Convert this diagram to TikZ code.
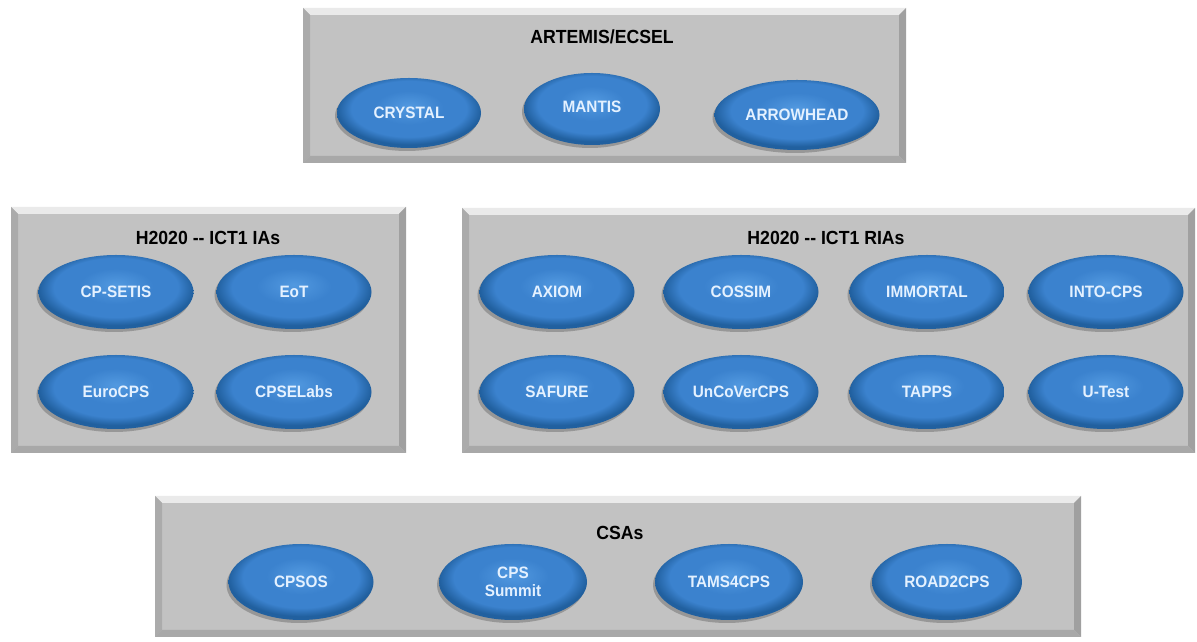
\documentclass[tikz,border=0pt]{standalone}
\usepackage{fontspec}
\newfontfamily\condfont[FakeStretch=0.93]{Liberation Sans}
\usetikzlibrary{shadows,calc,shapes.geometric}
\definecolor{facegray}{HTML}{C2C2C2}
\definecolor{bevtop}{HTML}{EAEAEA}
\definecolor{bevleft}{HTML}{ABABAB}
\definecolor{bevright}{HTML}{A0A0A0}
\definecolor{bevbot}{HTML}{A8A8A8}
\definecolor{ovalC}{HTML}{5299E0}
\definecolor{ovalM}{HTML}{3B82CE}
\definecolor{ovalE}{HTML}{21609F}
\definecolor{ovaltext}{HTML}{E4F1FF}
\pgfdeclareradialshading{ovalshade}{\pgfpoint{0bp}{5bp}}{color(0bp)=(ovalC); color(12bp)=(ovalM); color(20bp)=(ovalM); color(25bp)=(ovalE); color(50bp)=(ovalE)}
\tikzset{
  x=1pt, y=1pt,
  panel/.style={rectangle, fill=facegray, inner sep=0pt, outer sep=0pt},
  ptitle/.style={font=\condfont\bfseries\fontsize{19}{21}\selectfont, text=black},
  oval/.style={ellipse, shading=ovalshade, minimum width=#1, minimum height=74, inner sep=0pt,
    font=\condfont\bfseries\fontsize{16.5}{18}\selectfont, text=ovaltext, align=center,
    drop shadow={shadow xshift=-2pt, shadow yshift=-3pt, opacity=0.22, fill=black}},
  oval/.default=155
}
\newcommand\bevelpanel[1]{%
  \fill[bevtop] (#1.north west) -- (#1.north east) -- ([shift={(-7,-7)}]#1.north east) -- ([shift={(7,-7)}]#1.north west) -- cycle;
  \fill[bevleft] (#1.north west) -- ([shift={(7,-7)}]#1.north west) -- ([shift={(7,7)}]#1.south west) -- (#1.south west) -- cycle;
  \fill[bevright] (#1.north east) -- ([shift={(-7,-7)}]#1.north east) -- ([shift={(-7,7)}]#1.south east) -- (#1.south east) -- cycle;
  \fill[bevbot] (#1.south west) -- ([shift={(7,7)}]#1.south west) -- ([shift={(-7,7)}]#1.south east) -- (#1.south east) -- cycle;
}
\begin{document}
\begin{tikzpicture}
\useasboundingbox (0,0) rectangle (1197,642);
% panels
\node[panel, minimum width=603, minimum height=155] (art) at (604.5,556.5) {};
\bevelpanel{art}
\node[panel, minimum width=395, minimum height=246] (ias) at (208.5,312) {};
\bevelpanel{ias}
\node[panel, minimum width=733, minimum height=245] (rias) at (828.5,311.5) {};
\bevelpanel{rias}
\node[panel, minimum width=926, minimum height=141] (csas) at (618,75.5) {};
\bevelpanel{csas}
% titles
\node[ptitle] (tart) at (602,605) {ARTEMIS/ECSEL};
\node[ptitle] (tias) at (208,404) {H2020 -- ICT1 IAs};
\node[ptitle] (trias) at (826,404) {H2020 -- ICT1 RIAs};
\node[ptitle] (tcsas) at (620,109) {CSAs};
% ARTEMIS
\node[oval=144, minimum height=70] (crystal) at (409,529) {CRYSTAL};
\node[oval=136, minimum height=72] (mantis) at (592,533) {\raisebox{4pt}{MANTIS}};
\node[oval=165, minimum height=70] (arrowhead) at (797,527) {ARROWHEAD};
% IAs
\node[oval] (cpsetis) at (116,350) {CP-SETIS};
\node[oval] (eot) at (294,350) {EoT};
\node[oval] (eurocps) at (116,250) {EuroCPS};
\node[oval] (cpselabs) at (294,250) {CPSELabs};
% RIAs
\node[oval] (axiom) at (557,350) {AXIOM};
\node[oval] (cossim) at (741,350) {COSSIM};
\node[oval] (immortal) at (927,350) {IMMORTAL};
\node[oval] (intocps) at (1106,350) {INTO-CPS};
\node[oval] (safure) at (557,250) {SAFURE};
\node[oval] (uncover) at (741,250) {UnCoVerCPS};
\node[oval] (tapps) at (927,250) {TAPPS};
\node[oval] (utest) at (1106,250) {U-Test};
% CSAs
\node[oval=145, minimum height=76] (cpsos) at (301,60) {CPSOS};
\node[oval=148, minimum height=76] (summit) at (513,60) {CPS\\Summit};
\node[oval=148, minimum height=76] (tams) at (729,60) {TAMS4CPS};
\node[oval=150, minimum height=76] (road) at (947,60) {ROAD2CPS};
\end{tikzpicture}
\end{document}
